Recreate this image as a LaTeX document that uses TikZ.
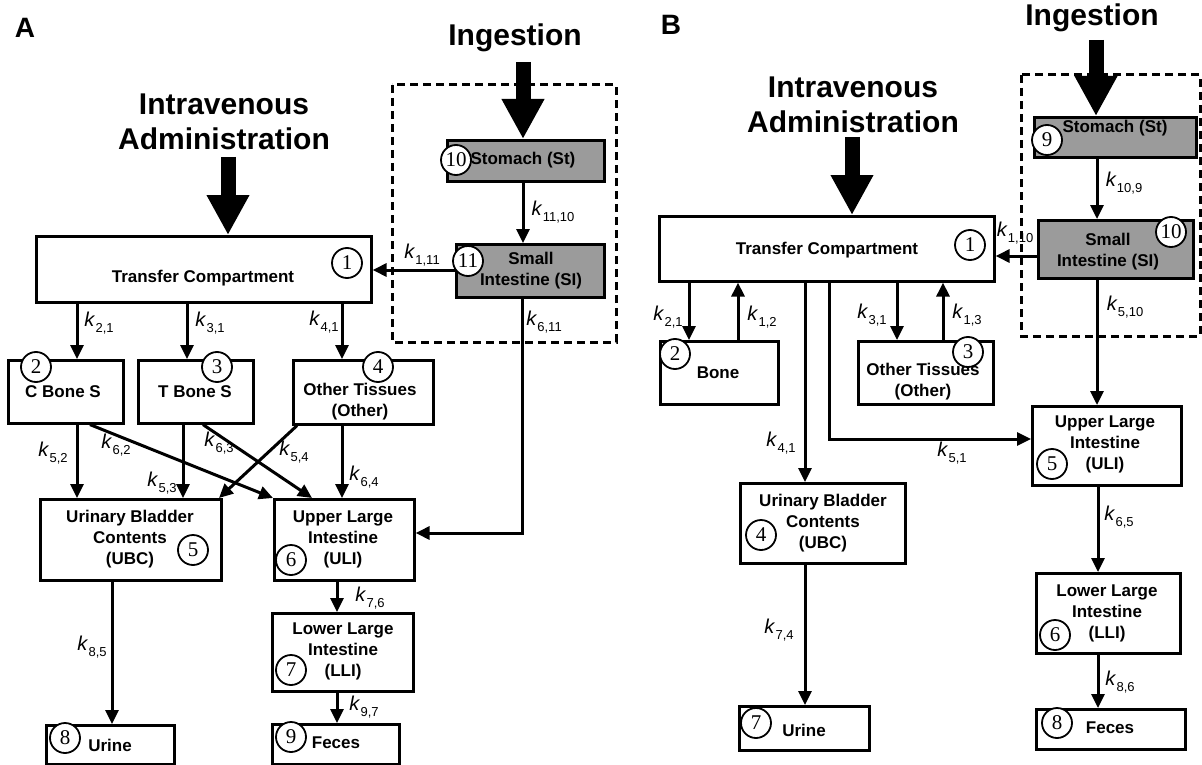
\documentclass[tikz,border=0pt]{standalone}
\usepackage{fontspec}
\setmainfont{Liberation Sans}
\newfontfamily\numfont{Liberation Serif}
\usetikzlibrary{arrows.meta}
\definecolor{gutgray}{RGB}{155,155,155}
% rate constant: italic k with a small upright subscript
\newcommand{\kl}[1]{\textit{k}\kern0.3pt\raisebox{-0.3em}{\fontsize{13}{13}\selectfont #1}}
\tikzset{
  box/.style={draw, line width=2.6pt, fill=white, inner sep=0pt, anchor=north west},
  gbox/.style={box, fill=gutgray},
  btxt/.style={font=\fontsize{17}{21}\selectfont\bfseries, inner sep=0pt, align=center},
  num/.style={circle, draw, line width=1.8pt, fill=white, minimum size=30pt, inner sep=0pt,
              font=\fontsize{21}{21}\selectfont\numfont},
  flow/.style={line width=3pt, -{Triangle[length=14pt,width=13pt]}},
  big/.style={line width=15pt, -{Triangle[length=40pt,width=40pt]}},
  rate/.style={inner sep=0pt, font=\fontsize{20}{20}\selectfont},
  route/.style={font=\fontsize{30}{35}\selectfont\bfseries, align=center, inner sep=0pt},
  panel/.style={font=\fontsize{28}{28}\selectfont\bfseries, inner sep=0pt},
  group/.style={draw, line width=3pt, dash pattern=on 8pt off 5pt}
}
\begin{document}
\begin{tikzpicture}[x=1pt,y=-1pt]
\useasboundingbox[fill=white] (0,0) rectangle (1202,765);

% ================= Panel A =================
\node[panel] (pA) at (25,28) {A};
\node[route] (ingA) at (515,38) {Ingestion};
\node[route] (ivA) at (224,122) {Intravenous\\Administration};

\draw[group] (392,85) rectangle (616,342);

\node[box, minimum width=335pt, minimum height=66pt] (trA) at (35,235) {};
\node[gbox, minimum width=157pt, minimum height=41pt] (stA) at (446,139) {};
\node[gbox, minimum width=148pt, minimum height=53pt] (siA) at (455,243) {};
\node[box, minimum width=115pt, minimum height=63pt] (cbA) at (7,359) {};
\node[box, minimum width=115pt, minimum height=63pt] (tbA) at (137,359) {};
\node[box, minimum width=140pt, minimum height=64pt] (otA) at (292,359) {};
\node[box, minimum width=181pt, minimum height=81pt] (ubA) at (39,498) {};
\node[box, minimum width=140pt, minimum height=81pt] (ulA) at (273,498) {};
\node[box, minimum width=141pt, minimum height=78pt] (llA) at (271,612) {};
\node[box, minimum width=127pt, minimum height=40pt] (feA) at (271,723) {};
\node[box, minimum width=128pt, minimum height=39pt] (urA) at (45,724) {};

\node[btxt] (ttrA) at (203,278) {Transfer Compartment};
\node[btxt] (tstA) at (523,160) {Stomach (St)};
\node[btxt] (tsiA) at (531,271) {Small\\Intestine (SI)};
\node[btxt] (tcbA) at (63,392) {C Bone S};
\node[btxt] (ttbA) at (195,392) {T Bone S};
\node[btxt] (totA) at (360,402) {Other Tissues\\(Other)};
\node[btxt] (tubA) at (130,539) {Urinary Bladder\\Contents\\(UBC)};
\node[btxt] (tulA) at (343,539) {Upper Large\\Intestine\\(ULI)};
\node[btxt] (tllA) at (343,651) {Lower Large\\Intestine\\(LLI)};
\node[btxt] (tfeA) at (336,743) {Feces};
\node[btxt] (turA) at (110,745) {Urine};

\node[num] (n1A) at (347,263) {1};
\node[num] (n2A) at (36,367) {2};
\node[num] (n3A) at (217,367) {3};
\node[num] (n4A) at (378,367) {4};
\node[num] (n5A) at (193,550) {5};
\node[num] (n6A) at (291,560) {6};
\node[num] (n7A) at (291,670) {7};
\node[num] (n8A) at (65,738) {8};
\node[num] (n9A) at (291,737) {9};
\node[num] (n10A) at (456,160) {10};
\node[num] (n11A) at (468,261) {11};

% dose inputs
\coordinate (ivAtop) at (228,157);
\coordinate (ingAtop) at (523,62);
\draw[big] (ivAtop) -- (trA.north -| ivAtop);
\draw[big] (ingAtop) -- (stA.north -| ingAtop);

% transfer lines
\coordinate (xA21) at (77,0);
\coordinate (xA31) at (187,0);
\coordinate (xA41) at (342,0);
\coordinate (xA52) at (77,0);
\coordinate (xA62s) at (90,0);
\coordinate (xA62e) at (273,0);
\coordinate (xA53) at (183,0);
\coordinate (xA63s) at (203,0);
\coordinate (xA63e) at (312,0);
\coordinate (xA54s) at (297,0);
\coordinate (xA54e) at (219,0);
\coordinate (xA64) at (342,0);
\coordinate (xA611) at (522,0);
\coordinate (yA611) at (0,533);
\coordinate (yA111) at (0,270);
\coordinate (xA76) at (337,0);
\coordinate (xA85) at (112,0);

\draw[flow] (stA.south -| ingAtop) -- (siA.north -| ingAtop);
\draw[flow] (siA.west |- yA111) -- (trA.east |- yA111);
\draw[flow] (trA.south -| xA21) -- (cbA.north -| xA21);
\draw[flow] (trA.south -| xA31) -- (tbA.north -| xA31);
\draw[flow] (trA.south -| xA41) -- (otA.north -| xA41);
\draw[flow] (cbA.south -| xA52) -- (ubA.north -| xA52);
\draw[flow] (cbA.south -| xA62s) -- (ulA.north -| xA62e);
\draw[flow] (tbA.south -| xA53) -- (ubA.north -| xA53);
\draw[flow] (tbA.south -| xA63s) -- (ulA.north -| xA63e);
\draw[flow] (otA.south -| xA54s) -- (ubA.north -| xA54e);
\draw[flow] (otA.south -| xA64) -- (ulA.north -| xA64);
\draw[flow] (siA.south -| xA611) -- (xA611 |- yA611) -- (ulA.east |- yA611);
\draw[flow] (ulA.south -| xA76) -- (llA.north -| xA76);
\draw[flow] (llA.south -| xA76) -- (feA.north -| xA76);
\draw[flow] (ubA.south -| xA85) -- (urA.north -| xA85);

\node[rate] (kA1110) at (553,212) {\kl{11,10}};
\node[rate] (kA111) at (422,255) {\kl{1,11}};
\node[rate] (kA611) at (544,322) {\kl{6,11}};
\node[rate] (kA21) at (99,323) {\kl{2,1}};
\node[rate] (kA31) at (210,323) {\kl{3,1}};
\node[rate] (kA41) at (324,322) {\kl{4,1}};
\node[rate] (kA52) at (53,453) {\kl{5,2}};
\node[rate] (kA62) at (116,445) {\kl{6,2}};
\node[rate] (kA53) at (162,483) {\kl{5,3}};
\node[rate] (kA63) at (219,443) {\kl{6,3}};
\node[rate] (kA54) at (294,452) {\kl{5,4}};
\node[rate] (kA64) at (364,477) {\kl{6,4}};
\node[rate] (kA76) at (370,598) {\kl{7,6}};
\node[rate] (kA97) at (364,707) {\kl{9,7}};
\node[rate] (kA85) at (92,647) {\kl{8,5}};

% ================= Panel B =================
\node[panel] (pB) at (671,25) {B};
\node[route] (ingB) at (1092,18) {Ingestion};
\node[route] (ivB) at (853,105) {Intravenous\\Administration};

\draw[group] (1021,75) rectangle (1200,336);

\node[box, minimum width=335pt, minimum height=65pt] (trB) at (658,215) {};
\node[gbox, minimum width=162pt, minimum height=40pt] (stB) at (1033,116) {};
\node[gbox, minimum width=155pt, minimum height=58pt] (siB) at (1037,219) {};
\node[box, minimum width=118pt, minimum height=63pt] (boB) at (659,340) {};
\node[box, minimum width=135pt, minimum height=63pt] (otB) at (857,340) {};
\node[box, minimum width=165pt, minimum height=80pt] (ubB) at (739,482) {};
\node[box, minimum width=149pt, minimum height=79pt] (ulB) at (1031,405) {};
\node[box, minimum width=144pt, minimum height=80pt] (llB) at (1035,572) {};
\node[box, minimum width=149pt, minimum height=40pt] (feB) at (1035,708) {};
\node[box, minimum width=130pt, minimum height=44pt] (urB) at (738,705) {};

\node[btxt] (ttrB) at (827,250) {Transfer Compartment};
\node[btxt] (tstB) at (1115,128) {Stomach (St)};
\node[btxt] (tsiB) at (1108,252) {Small\\Intestine (SI)};
\node[btxt] (tboB) at (718,373) {Bone};
\node[btxt] (totB) at (923,382) {Other Tissues\\(Other)};
\node[btxt] (tubB) at (823,523) {Urinary Bladder\\Contents\\(UBC)};
\node[btxt] (tulB) at (1105,444) {Upper Large\\Intestine\\(ULI)};
\node[btxt] (tllB) at (1107,613) {Lower Large\\Intestine\\(LLI)};
\node[btxt] (tfeB) at (1110,728) {Feces};
\node[btxt] (turB) at (804,730) {Urine};

\node[num] (n1B) at (970,245) {1};
\node[num] (n2B) at (675,354) {2};
\node[num] (n3B) at (968,352) {3};
\node[num] (n4B) at (761,535) {4};
\node[num] (n5B) at (1052,464) {5};
\node[num] (n6B) at (1055,635) {6};
\node[num] (n7B) at (756,723) {7};
\node[num] (n8B) at (1057,723) {8};
\node[num] (n9B) at (1047,140) {9};
\node[num] (n10B) at (1171,232) {10};

% dose inputs
\coordinate (ivBtop) at (852,137);
\coordinate (ingBtop) at (1096,40);
\draw[big] (ivBtop) -- (trB.north -| ivBtop);
\draw[big] (ingBtop) -- (stB.north -| ingBtop);

% transfer lines
\coordinate (xB109) at (1097,0);
\coordinate (yB110) at (0,256);
\coordinate (xB21) at (689,0);
\coordinate (xB12) at (738,0);
\coordinate (xB31) at (897,0);
\coordinate (xB13) at (943,0);
\coordinate (xB41) at (805,0);
\coordinate (xB51) at (829,0);
\coordinate (yB51) at (0,439);
\coordinate (xB65) at (1098,0);

\draw[flow] (stB.south -| xB109) -- (siB.north -| xB109);
\draw[flow] (siB.west |- yB110) -- (trB.east |- yB110);
\draw[flow] (siB.south -| xB109) -- (ulB.north -| xB109);
\draw[flow] (trB.south -| xB21) -- (boB.north -| xB21);
\draw[flow] (boB.north -| xB12) -- (trB.south -| xB12);
\draw[flow] (trB.south -| xB31) -- (otB.north -| xB31);
\draw[flow] (otB.north -| xB13) -- (trB.south -| xB13);
\draw[flow] (trB.south -| xB41) -- (ubB.north -| xB41);
\draw[flow] (trB.south -| xB51) -- (xB51 |- yB51) -- (ulB.west |- yB51);
\draw[flow] (ulB.south -| xB65) -- (llB.north -| xB65);
\draw[flow] (llB.south -| xB65) -- (feB.north -| xB65);
\draw[flow] (ubB.south -| xB41) -- (urB.north -| xB41);

\node[rate] (kB109) at (1124,183) {\kl{10,9}};
\node[rate] (kB110) at (1015,233) {\kl{1,10}};
\node[rate] (kB510) at (1125,307) {\kl{5,10}};
\node[rate] (kB21) at (668,317) {\kl{2,1}};
\node[rate] (kB12) at (762,317) {\kl{1,2}};
\node[rate] (kB31) at (872,315) {\kl{3,1}};
\node[rate] (kB13) at (967,315) {\kl{1,3}};
\node[rate] (kB41) at (781,443) {\kl{4,1}};
\node[rate] (kB51) at (952,453) {\kl{5,1}};
\node[rate] (kB65) at (1119,517) {\kl{6,5}};
\node[rate] (kB86) at (1120,682) {\kl{8,6}};
\node[rate] (kB74) at (779,630) {\kl{7,4}};
\end{tikzpicture}
\end{document}
